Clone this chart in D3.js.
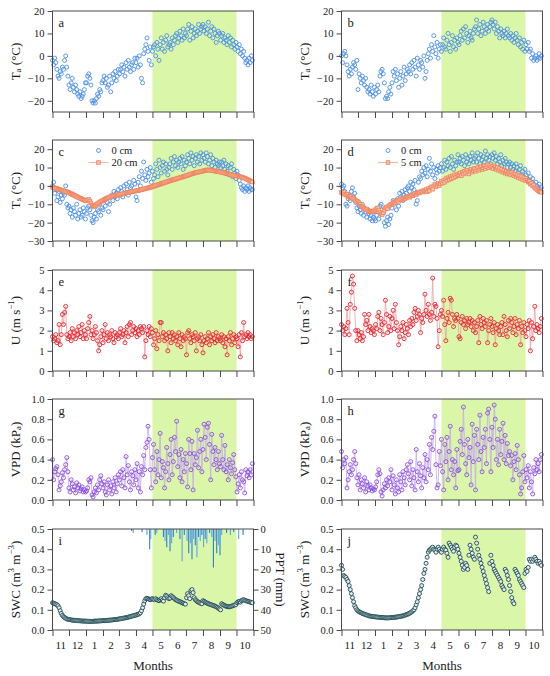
<!DOCTYPE html>
<html>
<head>
<meta charset="utf-8">
<script src="https://cdn.jsdelivr.net/npm/d3@7"></script>
<style>
body { margin: 0; background: #fff; }
svg { font-family: "Liberation Serif", "Times New Roman", serif; }
</style>
</head>
<body>
<svg width="550" height="676"></svg>
<script>
// daily records thinned to one value every 2 days, Nov 1 -> Oct 31
const start = new Date(2015, 10, 1);
const end = new Date(2016, 10, 1);
const stepDays = 2;
const monthLabels = ["11", "12", "1", "2", "3", "4", "5", "6", "7", "8", "9", "10"];
const growStart = new Date(2016, 4, 1);
const growEnd = new Date(2016, 9, 1);

// air temperature (°C)
const taA = [
  -2,-4,-1,-3,-6,-9,-10,-7,-8,-5,-6,-2,0,-5,-9,
  -13,-15,-12,-10,-14,-16,-13,-15,-17,-18,-16,-19,-18,-17,-15,-12,
  -12,-9,-8,-10,-13,-20,-21,-20,-21,-19,-17,-18,-15,-16,-12,
  -11,-9,-12,-10,-14,-13,-9,-16,-12,-8,-10,-7,-11,-9,-6,
  -8,-6,-4,-7,-5,-9,-3,-6,-2,-5,-7,-4,-3,-6,-1,
  -3,-1,-5,0,-4,-10,-12,1,3,5,8,2,-2,4,-4,
  2,4,5,0,6,3,-2,5,8,3,6,2,7,9,4,5,
  6,3,8,5,7,9,10,6,8,11,9,7,12,8,10,
  9,12,14,7,11,13,8,10,12,9,11,14,10,12,13,
  14,11,13,10,12,15,9,11,13,8,12,10,6,9,11,10,
  7,9,10,6,8,7,5,9,6,8,4,7,5,3,6,
  4,2,5,1,3,0,2,-1,-3,-2,-4,-1,-3,0,-2
];
const taB = [
  0,-3,1,2,0,-4,-7,-9,-6,-8,-5,-3,-4,-6,-2,
  -15,-8,-10,-12,-9,-11,-13,-10,-14,-16,-15,-17,-13,-16,-18,-14,
  -17,-15,-13,-16,-9,-7,-6,-8,-12,-19,-18,-19,-16,-14,-17,
  -12,-7,-9,-6,-11,-8,-14,-10,-7,-13,-9,-5,-11,-8,-6,
  -7,-4,-8,-3,-6,-2,-5,-9,-1,-4,-6,-2,-3,-5,0,
  -10,-7,-2,1,3,-1,5,2,9,4,1,6,-1,3,5,
  2,5,8,4,3,7,10,5,2,6,9,4,7,3,8,6,
  5,9,11,7,12,8,13,10,6,9,11,8,7,10,12,
  13,16,10,12,14,9,11,15,13,10,12,14,11,13,15,
  16,14,12,15,10,13,11,8,12,10,9,11,8,10,12,9,
  8,10,7,9,6,8,10,7,5,8,4,6,3,7,2,
  5,3,6,2,3,-1,1,-2,-1,0,-2,-1,1,-1,0
];

// soil temperature (°C)
const tsA0 = [
  0,2,-4,-2,-8,-6,-3,-9,-5,-7,-4,-5,0,-10,-12,
  -11,-15,-13,-17,-12,-14,-16,-10,-18,-15,-13,-17,-16,-12,-14,-18,
  -15,-12,-11,-13,-16,-19,-20,-17,-15,-18,-13,-14,-10,-16,-12,
  -13,-8,-11,-7,-9,-14,-10,-6,-5,-8,-3,-6,-4,-7,-2,
  -5,-1,-3,-6,0,-4,1,-2,-5,2,-1,0,-3,3,1,
  -6,-8,2,5,0,8,4,13,6,3,9,5,7,10,2,
  8,4,6,12,9,5,14,10,7,11,13,8,12,9,6,10,
  12,15,9,13,16,11,14,10,13,15,12,16,9,14,11,
  13,17,15,12,18,14,16,11,15,17,13,16,12,18,14,
  17,15,13,18,16,12,14,17,11,15,13,10,14,12,11,13,
  10,13,11,14,9,12,8,11,6,10,12,5,9,7,4,
  8,6,3,1,-1,-2,0,-3,-1,-2,0,-3,-1,-2,-2
];
const tsA20 = [
  -0.7,-0.9,-1.1,-1.3,-1.5,-1.7,-1.9,-2.1,-2.3,-2.5,-2.7,-2.9,-3.0,-3.2,-3.4,
  -3.7,-4.0,-4.3,-4.6,-4.9,-5.2,-5.5,-5.8,-6.1,-6.4,-6.7,-7.0,-7.2,-7.5,-7.8,-8.0,
  -8.1,-7.6,-7.4,-8.2,-9.3,-10.5,-11.2,-11.0,-10.6,-10.1,-9.7,-9.3,-8.9,-8.5,-8.2,
  -7.9,-7.5,-7.2,-6.9,-6.6,-6.3,-6.1,-5.9,-5.7,-5.5,-5.3,-5.2,-5.0,-4.9,-4.8,
  -4.7,-4.6,-4.4,-4.3,-4.1,-4.0,-3.8,-3.7,-3.5,-3.4,-3.3,-3.1,-3.0,-2.9,-2.8,
  -2.7,-2.6,-2.5,-2.3,-2.2,-2.0,-1.9,-1.7,-1.6,-1.4,-1.2,-1.1,-0.9,-0.8,-0.6,
  -0.4,-0.2,0.0,0.2,0.4,0.6,0.8,1.0,1.2,1.4,1.6,1.8,2.0,2.2,2.4,2.6,
  2.8,3.0,3.2,3.4,3.5,3.7,3.9,4.1,4.3,4.5,4.6,4.8,5.0,5.2,5.4,
  5.6,5.8,6.0,6.2,6.4,6.6,6.8,7.0,7.1,7.3,7.4,7.6,7.7,7.8,8.0,
  8.1,8.3,8.4,8.6,8.7,8.7,8.6,8.5,8.4,8.3,8.2,8.1,8.0,7.9,7.8,7.7,
  7.6,7.4,7.3,7.1,7.0,6.8,6.7,6.5,6.3,6.2,6.0,5.9,5.7,5.6,5.5,
  5.4,5.3,5.1,5.0,4.8,4.6,4.4,4.2,3.9,3.6,3.3,3.0,2.7,2.4,2.1
];
const tsB0 = [
  1,-1,0,-3,-10,-11,-7,-5,-8,-3,-1,-6,-4,-9,-12,
  -14,-11,-13,-15,-10,-16,-12,-14,-17,-13,-15,-18,-16,-19,-17,-18,
  -19,-16,-14,-18,-11,-10,-13,-15,-20,-22,-19,-17,-21,-18,-16,
  -12,-8,-10,-9,-13,-7,-11,-4,-6,-3,-8,-5,-2,-4,-1,
  0,-3,2,-1,1,-2,3,-10,-8,2,5,4,8,6,10,
  7,11,5,9,15,8,12,6,10,4,9,7,11,8,10,
  12,8,10,14,9,13,11,15,10,16,12,9,14,11,13,17,
  13,15,12,16,14,11,17,13,15,12,16,14,18,13,15,
  16,13,18,15,12,17,14,16,13,19,15,17,14,16,12,
  17,15,18,14,16,12,15,13,17,11,14,12,15,13,10,12,
  13,10,12,9,11,8,12,10,7,9,11,6,8,5,9,
  6,4,7,3,5,2,4,1,-1,2,0,-1,1,-2,-1
];
const tsB5 = [
  -3.5,-4.0,-3.6,-4.5,-5.0,-4.6,-5.5,-6.0,-5.7,-6.5,-7.0,-6.8,-7.5,-8.0,-8.3,
  -8.6,-9.2,-10.0,-11.0,-11.5,-12.0,-12.5,-13.0,-12.6,-13.5,-14.0,-13.6,-14.2,-13.8,-14.0,-13.5,
  -13.0,-12.4,-12.0,-13.2,-14.5,-15.2,-15.8,-14.6,-13.2,-12.0,-11.5,-12.4,-11.0,-10.5,-10.0,
  -9.8,-9.2,-8.6,-9.0,-8.2,-7.8,-8.4,-7.5,-7.0,-7.4,-6.8,-6.5,-6.9,-6.2,-6.0,
  -5.8,-6.2,-5.5,-5.0,-5.4,-4.6,-4.2,-4.8,-4.0,-3.5,-3.8,-3.2,-2.8,-3.4,-2.5,
  -2.8,-2.0,-3.2,-1.5,-2.5,-1.0,-0.5,-1.8,0.0,1.0,-0.4,0.5,1.5,0.2,1.2,
  2.5,1.5,3.0,2.0,4.0,3.0,4.5,3.5,5.0,4.0,5.5,4.5,6.0,5.0,6.5,5.5,
  6.0,7.0,5.5,7.5,6.5,8.0,7.0,8.5,7.5,6.5,8.0,9.0,7.5,8.5,9.5,
  8.0,9.0,10.0,8.5,9.5,10.5,9.0,10.0,11.0,9.5,10.5,11.5,10.0,11.0,10.0,
  10.5,9.5,11.0,10.0,9.0,10.0,8.5,9.5,8.0,9.0,7.5,8.5,7.0,8.0,6.5,7.5,
  7.0,6.0,7.5,6.5,5.5,6.5,5.0,6.0,4.5,5.5,4.0,5.0,3.5,4.5,3.0,
  4.0,3.0,2.0,2.5,1.0,1.5,0.0,0.5,-1.0,-1.5,-2.0,-2.5,-3.0,-3.2,-3.5
];

// wind speed (m s-1)
const uA = [
  1.7,1.5,1.6,1.8,1.4,1.5,2.3,1.3,1.8,2.8,2.3,2.9,3.2,1.8,1.6,
  1.7,1.9,1.5,2.1,1.7,1.9,1.6,2.0,1.8,2.2,1.7,1.9,2.3,1.6,2.0,1.8,
  1.6,2.1,2.4,2.7,1.8,2.0,1.6,1.8,2.2,1.9,1.5,1.0,1.3,1.7,2.0,
  1.4,1.8,2.3,1.6,1.9,1.5,1.8,1.7,2.0,1.6,1.4,1.9,1.7,1.8,1.6,
  1.9,2.1,1.7,1.8,2.0,1.4,1.9,2.2,1.7,2.3,2.4,1.8,2.0,2.2,1.9,
  2.1,1.7,2.0,1.8,2.2,2.1,1.9,2.2,0.7,1.5,2.0,1.8,2.2,1.7,2.1,
  1.9,1.3,1.6,2.0,1.1,1.8,1.5,2.4,2.4,1.7,1.9,1.5,1.8,1.6,1.0,1.9,
  1.7,1.4,1.9,1.6,1.8,1.5,1.7,1.3,1.9,1.6,1.2,1.8,1.5,1.7,1.6,
  0.8,1.9,2.0,1.6,1.4,1.8,1.7,1.5,1.9,1.0,1.6,1.7,1.5,1.8,1.3,
  0.9,1.5,1.7,1.4,1.6,1.9,1.3,1.7,1.5,1.8,1.6,1.4,1.9,1.5,1.7,1.6,
  1.5,1.8,1.4,1.7,1.2,1.6,0.8,1.7,1.5,1.9,1.3,1.6,1.8,1.4,1.7,
  1.6,1.2,1.8,0.7,1.9,1.5,2.4,1.7,1.8,1.6,1.9,1.7,1.8,1.6,1.7
];
const uB = [
  2.3,2.0,2.2,1.8,2.1,3.1,2.4,1.8,3.3,3.9,4.7,4.3,3.1,2.0,1.5,
  2.0,1.8,1.6,1.9,1.5,1.7,2.8,2.3,2.5,2.0,2.8,2.2,1.9,2.1,2.0,1.8,
  2.3,2.1,2.7,2.9,2.0,2.6,2.3,1.8,2.4,3.5,2.8,1.9,2.2,2.7,2.0,
  2.6,3.0,2.1,3.3,2.4,2.0,1.3,1.7,2.2,2.0,2.4,1.6,1.9,2.3,2.1,
  1.8,2.5,2.2,2.6,2.3,2.9,3.1,2.5,2.7,3.0,2.8,1.9,2.6,2.4,2.8,
  3.8,3.0,2.7,3.3,2.8,2.5,2.9,4.6,2.7,3.3,3.2,2.6,1.2,2.0,2.8,
  3.0,2.7,3.5,2.3,1.5,2.6,2.9,2.4,3.6,3.5,2.8,2.2,2.6,2.5,2.8,2.6,
  1.7,1.6,2.4,2.7,2.3,2.5,2.1,2.6,2.3,2.4,2.6,2.2,2.5,2.0,2.4,
  1.9,2.2,2.5,1.4,2.7,2.3,2.1,2.6,2.4,2.2,2.5,1.4,2.0,2.3,2.6,
  2.2,1.9,2.4,1.3,2.1,2.3,2.0,1.8,2.2,2.4,1.8,2.7,2.3,2.0,1.7,2.5,
  2.1,2.6,2.4,1.9,2.2,2.6,1.8,2.3,2.1,2.5,1.3,2.2,1.9,2.4,2.0,
  1.7,2.3,2.1,2.5,1.0,2.4,1.6,2.2,3.2,2.0,2.3,2.1,1.9,2.2,2.6
];

// vapour pressure deficit (kPa)
const vpdA = [
  0.40,0.20,0.28,0.31,0.33,0.25,0.10,0.14,0.18,0.27,0.22,0.30,0.35,0.42,0.28,
  0.12,0.08,0.20,0.16,0.10,0.13,0.07,0.17,0.12,0.15,0.09,0.11,0.13,0.08,0.10,0.08,
  0.09,0.12,0.20,0.18,0.22,0.05,0.03,0.08,0.12,0.07,0.15,0.10,0.20,0.24,0.16,
  0.12,0.18,0.08,0.05,0.15,0.20,0.10,0.14,0.06,0.18,0.12,0.22,0.08,0.16,0.25,
  0.20,0.28,0.14,0.30,0.22,0.12,0.43,0.25,0.34,0.18,0.10,0.28,0.24,0.15,0.30,
  0.20,0.36,0.12,0.28,0.08,0.33,0.25,0.44,0.30,0.52,0.57,0.73,0.60,0.30,0.12,
  0.42,0.55,0.30,0.18,0.48,0.25,0.40,0.66,0.22,0.38,0.32,0.12,0.28,0.52,0.36,0.20,
  0.45,0.60,0.25,0.38,0.62,0.48,0.78,0.33,0.45,0.22,0.50,0.18,0.40,0.28,0.46,
  0.36,0.13,0.60,0.46,0.30,0.58,0.10,0.46,0.35,0.42,0.69,0.32,0.48,0.60,0.28,
  0.50,0.75,0.62,0.40,0.72,0.76,0.55,0.20,0.65,0.48,0.35,0.52,0.40,0.30,0.48,0.36,
  0.33,0.64,0.40,0.30,0.54,0.28,0.35,0.20,0.40,0.32,0.26,0.37,0.45,0.30,0.23,
  0.08,0.16,0.25,0.12,0.28,0.20,0.18,0.07,0.30,0.24,0.28,0.22,0.30,0.25,0.36
];
const vpdB = [
  0.48,0.32,0.40,0.36,0.42,0.12,0.20,0.28,0.35,0.25,0.30,0.40,0.48,0.36,0.22,
  0.15,0.25,0.10,0.20,0.16,0.12,0.22,0.08,0.18,0.14,0.10,0.15,0.12,0.09,0.11,0.10,
  0.13,0.18,0.25,0.30,0.26,0.08,0.04,0.10,0.16,0.12,0.20,0.14,0.22,0.18,0.30,
  0.10,0.24,0.15,0.06,0.20,0.12,0.08,0.25,0.18,0.10,0.28,0.22,0.15,0.30,0.35,
  0.26,0.20,0.38,0.14,0.30,0.22,0.10,0.50,0.28,0.18,0.36,0.24,0.12,0.32,0.22,
  0.45,0.18,0.40,0.30,0.55,0.25,0.62,0.50,0.68,0.83,0.35,0.12,0.15,0.48,0.34,
  0.60,0.28,0.10,0.55,0.38,0.62,0.20,0.48,0.73,0.30,0.40,0.25,0.38,0.12,0.50,0.29,
  0.30,0.58,0.70,0.45,0.92,0.55,0.36,0.25,0.60,0.42,0.52,0.15,0.75,0.38,0.64,
  0.10,0.70,0.55,0.40,0.84,0.48,0.28,0.62,0.52,0.70,0.36,0.86,0.90,0.60,0.28,
  0.72,0.52,0.94,0.80,0.40,0.60,0.35,0.70,0.45,0.58,0.76,0.40,0.64,0.36,0.56,0.44,
  0.48,0.34,0.44,0.20,0.38,0.46,0.30,0.54,0.40,0.25,0.06,0.12,0.28,0.44,0.18,
  0.30,0.22,0.34,0.12,0.28,0.18,0.06,0.32,0.26,0.40,0.30,0.36,0.28,0.40,0.45
];

// soil water content (m3 m-3)
const swcA = [
  0.135,0.133,0.130,0.128,0.125,0.120,0.110,0.095,0.082,0.072,0.066,0.062,0.058,0.055,0.053,
  0.052,0.051,0.050,0.049,0.048,0.048,0.047,0.047,0.046,0.046,0.045,0.045,0.045,0.044,0.044,0.044,
  0.044,0.043,0.043,0.043,0.043,0.043,0.043,0.044,0.044,0.044,0.044,0.045,0.045,0.045,0.046,
  0.046,0.046,0.047,0.047,0.048,0.048,0.049,0.049,0.050,0.050,0.051,0.052,0.052,0.053,0.054,
  0.055,0.056,0.057,0.058,0.059,0.060,0.061,0.062,0.064,0.065,0.066,0.068,0.070,0.071,0.073,
  0.074,0.076,0.078,0.080,0.085,0.095,0.110,0.128,0.145,0.155,0.157,0.155,0.152,0.150,0.153,
  0.155,0.152,0.150,0.155,0.150,0.147,0.145,0.150,0.155,0.148,0.143,0.160,0.172,0.168,0.160,0.155,
  0.158,0.170,0.165,0.160,0.155,0.150,0.148,0.145,0.142,0.140,0.138,0.135,0.132,0.130,0.128,
  0.160,0.180,0.170,0.155,0.195,0.200,0.185,0.160,0.150,0.145,0.140,0.138,0.135,0.132,0.130,
  0.145,0.142,0.138,0.135,0.132,0.130,0.128,0.126,0.124,0.122,0.120,0.118,0.115,0.112,0.108,0.104,
  0.100,0.130,0.126,0.123,0.120,0.118,0.116,0.115,0.115,0.116,0.118,0.120,0.122,0.124,0.126,
  0.135,0.140,0.142,0.138,0.145,0.148,0.150,0.147,0.145,0.143,0.142,0.140,0.138,0.136,0.135
];
const swcB = [
  0.32,0.30,0.27,0.265,0.26,0.25,0.24,0.22,0.20,0.18,0.16,0.14,0.12,0.11,0.10,
  0.095,0.090,0.088,0.085,0.082,0.080,0.078,0.076,0.074,0.072,0.070,0.069,0.068,0.067,0.066,0.066,
  0.065,0.064,0.064,0.063,0.063,0.062,0.062,0.061,0.061,0.060,0.060,0.060,0.060,0.061,0.061,
  0.062,0.062,0.063,0.063,0.064,0.065,0.066,0.067,0.068,0.069,0.070,0.072,0.074,0.076,0.078,
  0.080,0.083,0.086,0.090,0.095,0.100,0.110,0.125,0.140,0.160,0.180,0.200,0.220,0.250,0.280,
  0.300,0.330,0.360,0.385,0.395,0.400,0.405,0.410,0.400,0.395,0.385,0.400,0.410,0.400,0.390,
  0.385,0.400,0.410,0.400,0.395,0.380,0.360,0.430,0.420,0.410,0.400,0.390,0.410,0.420,0.415,0.400,
  0.380,0.360,0.340,0.320,0.300,0.310,0.330,0.320,0.300,0.370,0.420,0.400,0.380,0.360,0.350,
  0.460,0.430,0.400,0.370,0.350,0.330,0.310,0.290,0.270,0.250,0.230,0.210,0.190,0.330,0.370,
  0.340,0.320,0.300,0.290,0.280,0.270,0.260,0.250,0.240,0.220,0.210,0.200,0.300,0.290,0.270,0.250,
  0.220,0.190,0.160,0.140,0.130,0.300,0.290,0.280,0.270,0.250,0.240,0.230,0.220,0.210,0.280,
  0.300,0.290,0.310,0.350,0.340,0.350,0.340,0.350,0.360,0.350,0.340,0.330,0.340,0.330,0.320
];

// precipitation events, panel i (days after Nov 1, mm)
const pptDay = [144,147,163,172,177,179,187,190,202,205,208,211,214,217,220,226,232,236,240,
  245,248,251,254,257,260,263,266,269,272,275,278,281,286,290,293,296,299,302,305,308,317,324,330,339,347];
const pptMm = [1,2,1.5,3,10,5,3,2,4,6,9,3,11,7,4,2,5,16,3,
  6,12,7,15,5,8,14,4,6,3,9,5,7,2,4,19,6,12,8,13,3,2,3,1.5,5,3];

const svg = d3.select("svg");
const colX = [52.5, 341.5];
const rowY = [11, 140, 270, 399, 529];
const plotW = 201;
const plotH = 101;
const frameColor = "#4a4a4a";
const textColor = "#1a1a1a";

const dayDate = (i) => d3.timeDay.offset(start, i * stepDays);
const monthStarts = d3.timeMonth.range(start, d3.timeDay.offset(end, 1));

const fmtInt = (d) => d3.format("d")(d).replace("-", "\u2212");
const fmt1 = d3.format(".1f");

function styleAxis(g) {
  g.select(".domain").remove();
  g.selectAll(".tick line").attr("stroke", frameColor);
  g.selectAll(".tick text")
    .attr("fill", textColor)
    .style("font-size", "10.5px")
    .style("font-family", "Liberation Serif");
}

function yLabel(cx, cy, parts, rot) {
  const t = svg.append("text")
    .attr("transform", `translate(${cx},${cy}) rotate(${rot})`)
    .attr("text-anchor", "middle")
    .attr("dominant-baseline", "central")
    .attr("fill", textColor)
    .style("font-size", "13px");
  let shift = 0;
  parts.forEach(([s, kind]) => {
    const want = kind === "sub" ? 3 : kind === "sup" ? -4 : 0;
    t.append("tspan")
      .attr("dy", want - shift)
      .style("font-size", kind ? "9px" : "13px")
      .text(s);
    shift = want;
  });
}

function panel(col, row, opt) {
  const x0 = colX[col];
  const y0 = rowY[row];
  const x = d3.scaleTime().domain([start, end]).range([x0, x0 + plotW]);
  const y = d3.scaleLinear().domain(opt.domain).range([y0 + plotH, y0]);
  const g = svg.append("g");

  g.append("rect")
    .attr("x", x(growStart)).attr("y", y0)
    .attr("width", x(growEnd) - x(growStart)).attr("height", plotH)
    .attr("fill", "#daf6a8");

  if (opt.ppt) {
    const yp = d3.scaleLinear().domain([0, 50]).range([y0, y0 + plotH]);
    g.append("g").selectAll("line")
      .data(pptDay.map((d, i) => ({ date: d3.timeDay.offset(start, d), v: pptMm[i] })))
      .join("line")
      .attr("x1", (d) => x(d.date)).attr("x2", (d) => x(d.date))
      .attr("y1", yp(0)).attr("y2", (d) => yp(d.v))
      .attr("stroke", (d, i) => (i % 2 ? "#5aa5ee" : "#2a7fd9"))
      .attr("stroke-width", 1.1);
    g.append("g")
      .attr("transform", `translate(${x0 + plotW},0)`)
      .call(d3.axisRight(yp).tickValues([0, 10, 20, 30, 40, 50]).tickSize(5).tickPadding(2))
      .call(styleAxis);
  }

  opt.series.forEach((s) => {
    const pts = s.values.map((v, i) => ({ date: dayDate(i), v }));
    if (s.line) {
      g.append("path")
        .datum(pts)
        .attr("fill", "none")
        .attr("stroke", s.line)
        .attr("stroke-width", 0.8)
        .attr("d", d3.line().x((d) => x(d.date)).y((d) => y(d.v)));
    }
    if (s.shape === "square") {
      g.append("g").selectAll("rect").data(pts).join("rect")
        .attr("x", (d) => x(d.date) - 1.8).attr("y", (d) => y(d.v) - 1.8)
        .attr("width", 3.6).attr("height", 3.6)
        .attr("fill", s.fill).attr("stroke", s.stroke).attr("stroke-width", 0.8);
    } else {
      g.append("g").selectAll("circle").data(pts).join("circle")
        .attr("cx", (d) => x(d.date)).attr("cy", (d) => y(d.v))
        .attr("r", 2)
        .attr("fill", s.fill).attr("stroke", s.stroke).attr("stroke-width", 0.9);
    }
  });

  g.append("rect")
    .attr("x", x0).attr("y", y0).attr("width", plotW).attr("height", plotH)
    .attr("fill", "none").attr("stroke", frameColor).attr("stroke-width", 1);

  g.append("g")
    .attr("transform", `translate(${x0},0)`)
    .call(d3.axisLeft(y).tickValues(opt.ticks).tickSize(5).tickPadding(3)
      .tickFormat(opt.fmt))
    .call(styleAxis);

  g.append("g")
    .attr("transform", `translate(0,${y0 + plotH})`)
    .call(d3.axisBottom(x).tickValues(monthStarts).tickSize(6).tickFormat(""))
    .call(styleAxis);

  if (row === 4) {
    g.selectAll(".mlab")
      .data(monthStarts.slice(0, 12))
      .join("text")
      .attr("x", (d, i) => (x(d) + x(monthStarts[i + 1])) / 2)
      .attr("y", y0 + plotH + 19)
      .attr("text-anchor", "middle")
      .attr("fill", textColor)
      .style("font-size", "11px")
      .text((d, i) => monthLabels[i]);
    g.append("text")
      .attr("x", x0 + plotW / 2)
      .attr("y", y0 + plotH + 40)
      .attr("text-anchor", "middle")
      .attr("fill", textColor)
      .style("font-size", "13px")
      .text("Months");
  }

  g.append("text")
    .attr("x", x0 + 6).attr("y", y0 + 16)
    .attr("fill", textColor)
    .style("font-size", "12.5px")
    .text(opt.letter);

  if (opt.legend) {
    opt.legend.forEach((l, i) => {
      const ly = y0 + 10.5 + i * 12;
      const lx = x0 + (col === 0 ? 46 : 46.5);
      if (l.line) {
        g.append("line").attr("x1", lx - 10).attr("x2", lx + 10)
          .attr("y1", ly).attr("y2", ly).attr("stroke", l.line).attr("stroke-width", 0.8);
      }
      if (l.shape === "square") {
        g.append("rect").attr("x", lx - 1.8).attr("y", ly - 1.8).attr("width", 3.6).attr("height", 3.6)
          .attr("fill", l.fill).attr("stroke", l.stroke).attr("stroke-width", 0.8);
      } else {
        g.append("circle").attr("cx", lx).attr("cy", ly).attr("r", 2)
          .attr("fill", l.fill).attr("stroke", l.stroke).attr("stroke-width", 0.9);
      }
      g.append("text").attr("x", lx + 13).attr("y", ly + 3.5)
        .attr("fill", textColor).style("font-size", "10.5px").text(l.text);
    });
  }

  yLabel(col === 0 ? 15 : 304, y0 + plotH / 2, opt.label, -90);
}

const blue = { shape: "circle", stroke: "#4b8fe8", fill: "none" };
const salmon = { shape: "square", stroke: "#f0825c", fill: "#f9c3ad", line: "#f6a385" };
const red = { shape: "circle", stroke: "#e5262c", fill: "none", line: "#f3a0a3" };
const purple = { shape: "circle", stroke: "#8b4fe0", fill: "none", line: "#c8a9ee" };
const teal = { shape: "circle", stroke: "#1d4a53", fill: "#e4eded" };

const taLabel = [["T", ""], ["a", "sub"], [" (°C)", ""]];
const tsLabel = [["T", ""], ["s", "sub"], [" (°C)", ""]];
const uLabel = [["U (m s", ""], ["\u22121", "sup"], [")", ""]];
const vpdLabel = [["VPD (kP", ""], ["a", "sub"], [")", ""]];
const swcLabel = [["SWC (m", ""], ["3", "sup"], [" m", ""], ["\u22123", "sup"], [")", ""]];

[0, 1].forEach((col) => {
  panel(col, 0, {
    letter: col ? "b" : "a", domain: [-25, 20], ticks: [-20, -10, 0, 10, 20], fmt: fmtInt,
    label: taLabel, series: [{ ...blue, values: col ? taB : taA }]
  });
  panel(col, 1, {
    letter: col ? "d" : "c", domain: [-30, 25], ticks: [-30, -20, -10, 0, 10, 20], fmt: fmtInt,
    label: tsLabel,
    series: [{ ...blue, values: col ? tsB0 : tsA0 }, { ...salmon, values: col ? tsB5 : tsA20 }],
    legend: [{ ...blue, text: "0 cm" }, { ...salmon, text: col ? "5 cm" : "20 cm" }]
  });
  panel(col, 2, {
    letter: col ? "f" : "e", domain: [0, 5], ticks: [0, 1, 2, 3, 4, 5], fmt: fmtInt,
    label: uLabel, series: [{ ...red, values: col ? uB : uA }]
  });
  panel(col, 3, {
    letter: col ? "h" : "g", domain: [0, 1], ticks: [0, 0.2, 0.4, 0.6, 0.8, 1.0], fmt: fmt1,
    label: vpdLabel, series: [{ ...purple, values: col ? vpdB : vpdA }]
  });
  panel(col, 4, {
    letter: col ? "j" : "i", domain: [0, 0.5], ticks: [0, 0.1, 0.2, 0.3, 0.4, 0.5], fmt: fmt1,
    label: swcLabel, series: [{ ...teal, values: col ? swcB : swcA }], ppt: !col
  });
});

yLabel(281, rowY[4] + plotH / 2, [["PPT (mm)", ""]], 90);
</script>
</body>
</html>
